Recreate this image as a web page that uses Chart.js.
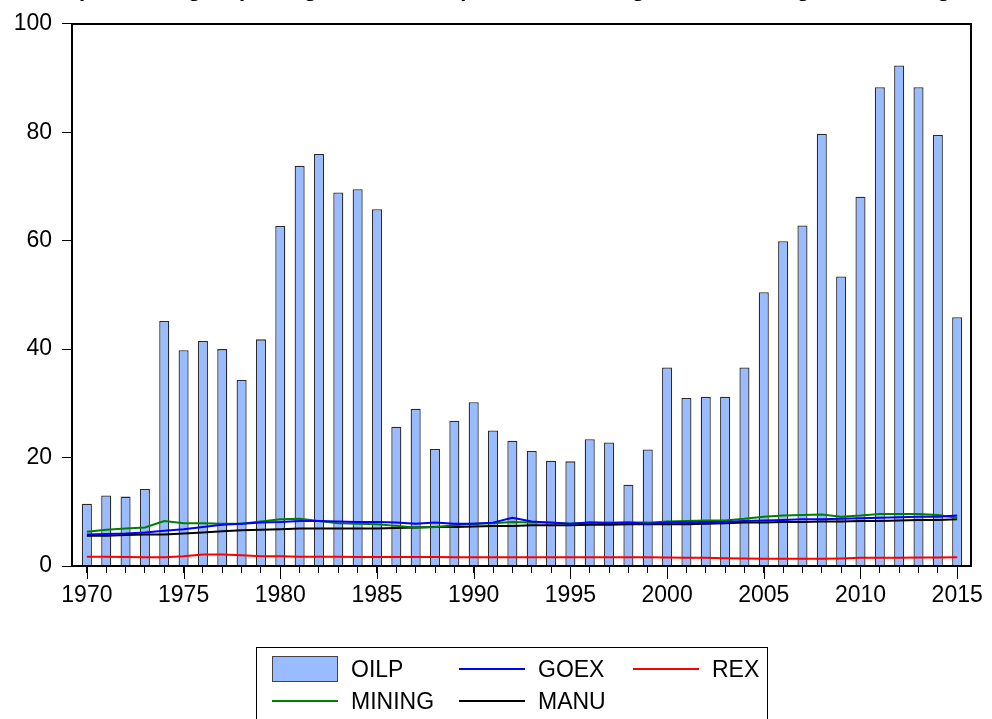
<!DOCTYPE html>
<html>
<head>
<meta charset="utf-8">
<script src="https://cdn.jsdelivr.net/npm/chart.js@4/dist/chart.umd.min.js"></script>
<style>
  html, body { margin: 0; padding: 0; background: #fff; overflow: hidden; }
  #wrap { position: relative; width: 992px; height: 719px; overflow: hidden; }
  #title { position: absolute; left: -58px; top: -22px; white-space: nowrap;
           font: bold 22px "Liberation Sans", Arial, sans-serif; line-height: 22px; color: #000; }
  #legend { position: absolute; left: 256px; top: 647px; width: 512px; height: 90px;
            border: 1px solid #000; box-sizing: border-box; font: 23px "Liberation Sans", Arial, sans-serif; color: #000; }
  .item { position: absolute; height: 26px; }
  .sw { position: absolute; left: 0; width: 66px; }
  .lab { position: absolute; left: 79px; top: 0; line-height: 26px; white-space: nowrap; }
</style>
</head>
<body>
<div id="wrap">
  <canvas id="c" width="992" height="719"></canvas>
  <div id="title">Figure 1: Graph showing oil price, government expenditure, mining, manufacturing and exchange rate</div>
  <div id="legend"></div>
</div>
<script>
const years = [1970,1971,1972,1973,1974,1975,1976,1977,1978,1979,1980,1981,1982,1983,1984,1985,1986,1987,1988,1989,1990,1991,1992,1993,1994,1995,1996,1997,1998,1999,2000,2001,2002,2003,2004,2005,2006,2007,2008,2009,2010,2011,2012,2013,2014,2015];
const oilp = [11.5,13.0,12.8,14.2,45.2,39.8,41.5,40.0,34.3,41.8,62.7,73.8,76.0,68.9,69.5,65.8,25.7,29.0,21.6,26.8,30.2,25.0,23.1,21.2,19.4,19.3,23.4,22.8,15.0,21.5,36.6,31.0,31.2,31.2,36.6,50.5,59.9,62.8,79.7,53.4,68.1,88.3,92.3,88.3,79.5,45.9];
const goex = [5.8,5.9,6.0,6.2,6.5,6.8,7.2,7.6,7.8,8.0,8.1,8.3,8.3,8.2,8.1,8.1,8.0,7.8,8.0,7.8,7.8,8.0,8.9,8.2,8.0,7.8,8.0,7.9,8.0,7.8,8.0,8.0,8.1,8.1,8.3,8.4,8.5,8.6,8.6,8.7,8.8,8.9,9.0,9.1,9.1,9.3];
const rex = [1.7,1.7,1.65,1.6,1.6,1.8,2.1,2.1,2.0,1.8,1.8,1.7,1.7,1.7,1.65,1.65,1.65,1.65,1.65,1.6,1.6,1.6,1.6,1.6,1.6,1.6,1.6,1.6,1.6,1.6,1.55,1.5,1.5,1.45,1.4,1.35,1.35,1.35,1.35,1.4,1.5,1.5,1.5,1.55,1.55,1.6];
const mining = [6.3,6.7,6.9,7.1,8.3,7.9,7.9,7.8,7.8,8.2,8.6,8.7,8.3,7.9,7.8,7.7,7.4,7.1,7.2,7.5,7.8,7.9,8.1,8.0,8.0,7.8,8.0,8.0,8.0,8.0,8.2,8.3,8.4,8.4,8.7,9.1,9.3,9.4,9.5,9.1,9.3,9.6,9.6,9.6,9.4,8.9];
const manu = [5.6,5.6,5.7,5.8,5.8,6.0,6.2,6.4,6.6,6.7,6.8,6.9,6.9,6.9,6.9,6.9,7.0,7.1,7.2,7.2,7.3,7.4,7.4,7.5,7.5,7.5,7.6,7.6,7.7,7.7,7.7,7.7,7.8,7.9,8.0,8.0,8.1,8.1,8.2,8.2,8.3,8.3,8.4,8.5,8.5,8.6];
const yTicks = [0,20,40,60,80,100];
const majorYears = years.filter(y => y % 5 === 0);

const FONT = "'Liberation Sans', Arial, sans-serif";
const xy = arr => years.map((yr, i) => ({x: yr, y: arr[i]}));

const series = [
  {label: 'OILP', type: 'bar', data: xy(oilp), backgroundColor: '#99BBFF', borderColor: '#2a2a2a', borderWidth: 1.3, barPercentage: 0.52, categoryPercentage: 1, order: 2},
  {label: 'GOEX', type: 'line', data: xy(goex), borderColor: '#0000FF', borderWidth: 2, pointRadius: 0, order: 1},
  {label: 'REX', type: 'line', data: xy(rex), borderColor: '#FF0000', borderWidth: 2, pointRadius: 0, order: 1},
  {label: 'MINING', type: 'line', data: xy(mining), borderColor: '#008000', borderWidth: 2, pointRadius: 0, order: 1},
  {label: 'MANU', type: 'line', data: xy(manu), borderColor: '#000000', borderWidth: 2, pointRadius: 0, order: 1}
];

const framePlugin = {
  id: 'frame',
  afterDraw(chart) {
    const {ctx, chartArea: a, scales: {x}} = chart;
    ctx.save();
    ctx.strokeStyle = '#000';
    ctx.lineWidth = 2;
    ctx.strokeRect(Math.round(a.left), Math.round(a.top), Math.round(a.right - a.left), Math.round(a.bottom - a.top));
    ctx.lineWidth = 1;
    ctx.beginPath();
    majorYears.forEach(y => {
      const px = Math.round(x.getPixelForValue(y)) + 0.5;
      ctx.moveTo(px, a.bottom);
      ctx.lineTo(px, a.bottom + 13);
    });
    ctx.stroke();
    ctx.restore();
  }
};

const chart = new Chart(document.getElementById('c'), {
  data: {datasets: series},
  options: {
    responsive: false,
    animation: false,
    layout: {padding: {top: 22, right: 15, left: 0, bottom: 0}},
    plugins: {legend: {display: false}, tooltip: {enabled: false}},
    scales: {
      x: {
        type: 'linear',
        offset: false,
        min: 1969.23, max: 2015.72,
        afterBuildTicks: s => { s.ticks = years.map(v => ({value: v})); },
        afterFit: s => { s.height = 153; },
        grid: {drawOnChartArea: false, offset: false, tickLength: 7, color: '#000', tickColor: '#000'},
        border: {display: true, color: '#000', width: 2},
        ticks: {autoSkip: false, maxRotation: 0, padding: 9, color: '#000', font: {family: FONT, size: 23},
                callback: v => (v % 5 === 0 ? String(v) : '')}
      },
      y: {
        min: 0, max: 100,
        afterBuildTicks: s => { s.ticks = yTicks.map(v => ({value: v})); },
        afterFit: s => { s.width = 72; },
        grid: {drawOnChartArea: false, tickLength: 10, color: '#000', tickColor: '#000'},
        border: {display: true, color: '#000', width: 2},
        ticks: {padding: 10, color: '#000', font: {family: FONT, size: 23}}
      }
    }
  },
  plugins: [framePlugin]
});

// HTML legend built from the chart's datasets
const legendPos = {OILP: [15, 8], GOEX: [202, 8], REX: [376, 8], MINING: [15, 40], MANU: [202, 40]};
const leg = document.getElementById('legend');
chart.data.datasets.forEach(ds => {
  const [l, t] = legendPos[ds.label];
  const it = document.createElement('div');
  it.className = 'item';
  it.style.left = l + 'px';
  it.style.top = t + 'px';
  const sw = document.createElement('div');
  sw.className = 'sw';
  if (ds.type === 'bar') {
    sw.style.top = '0px'; sw.style.height = '26px'; sw.style.boxSizing = 'border-box';
    sw.style.background = ds.backgroundColor; sw.style.border = '1px solid #444';
  } else {
    sw.style.top = '12px'; sw.style.height = '2px'; sw.style.background = ds.borderColor;
  }
  const lab = document.createElement('div');
  lab.className = 'lab';
  lab.textContent = ds.label;
  it.appendChild(sw); it.appendChild(lab);
  leg.appendChild(it);
});
</script>
</body>
</html>
